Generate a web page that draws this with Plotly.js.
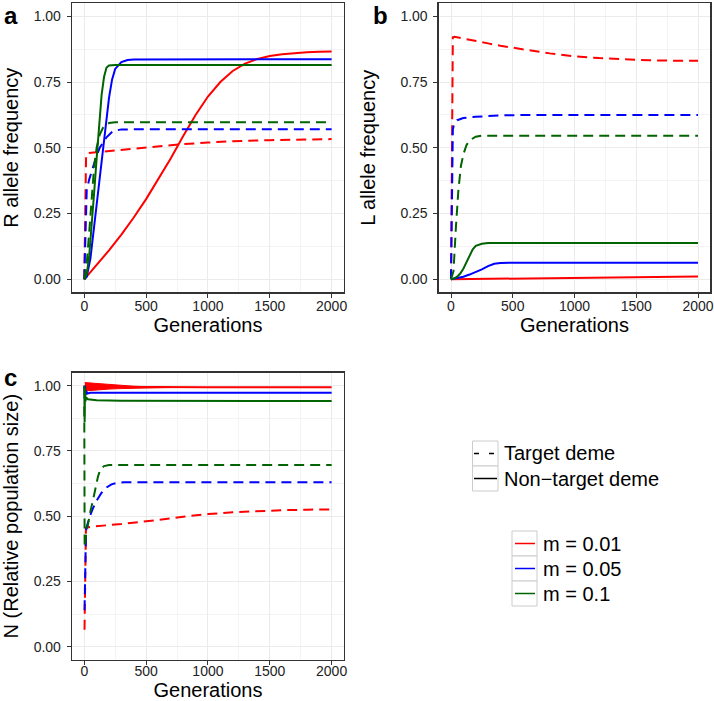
<!DOCTYPE html>
<html>
<head>
<meta charset="utf-8">
<script src="https://cdn.plot.ly/plotly-3.0.1.min.js"></script>
<style>html,body{margin:0;padding:0;background:#fff;}#chart{width:714px;height:701px;}</style>
</head>
<body>
<div id="chart"></div>
<script>
// ---------------- data ----------------
const seriesNames = ["m = 0.01", "m = 0.05", "m = 0.1"];
const demeNames = ["Target deme", "Non\u2212target deme"];
const xTicks = [0, 500, 1000, 1500, 2000];
const yTicks = [0, 0.25, 0.5, 0.75, 1];

// Panel a: R allele frequency
const aRedSolidX = [0,100,200,300,400,500,600,700,800,900,1000,1100,1200,1300,1400,1500,1600,1700,1800,1900,2000];
const aRedSolidY = [0,0.055,0.11,0.17,0.235,0.305,0.38,0.46,0.545,0.625,0.695,0.75,0.792,0.82,0.838,0.849,0.856,0.86,0.863,0.865,0.866];
const aRedDashX = [0,8,15,30,100,200,300,400,500,600,800,1000,1200,1500,2000];
const aRedDashY = [0,0.3,0.475,0.48,0.483,0.488,0.493,0.498,0.503,0.507,0.514,0.52,0.525,0.529,0.533];
const aBlueSolidX = [0,20,50,75,100,125,150,175,200,225,250,300,350,400,2000];
const aBlueSolidY = [0,0.01,0.08,0.18,0.29,0.40,0.50,0.60,0.69,0.76,0.80,0.826,0.834,0.836,0.837];
const aBlueDashX = [0,5,10,20,40,70,100,125,150,180,230,300,2000];
const aBlueDashY = [0,0.1,0.25,0.34,0.38,0.43,0.47,0.50,0.52,0.54,0.563,0.57,0.571];
const aGreenSolidX = [0,20,40,60,80,100,120,140,160,180,200,250,2000];
const aGreenSolidY = [0,0.02,0.09,0.20,0.33,0.46,0.59,0.70,0.77,0.805,0.813,0.815,0.815];
const aGreenDashX = [0,20,40,60,80,100,125,150,175,200,250,2000];
const aGreenDashY = [0,0.06,0.18,0.32,0.43,0.50,0.55,0.575,0.588,0.594,0.597,0.597];

// Panel b: L allele frequency
const bRedSolidX = [0,500,1000,1500,2000];
const bRedSolidY = [0,0.003,0.006,0.009,0.011];
const bRedDashX = [0,8,15,30,100,200,300,400,500,600,700,800,900,1000,1200,1400,1600,1800,2000];
const bRedDashY = [0,0.6,0.92,0.922,0.915,0.906,0.897,0.888,0.88,0.873,0.866,0.859,0.853,0.848,0.841,0.836,0.833,0.831,0.831];
const bBlueSolidX = [0,50,100,150,200,250,300,350,400,500,2000];
const bBlueSolidY = [0,0.004,0.01,0.018,0.027,0.038,0.05,0.059,0.062,0.063,0.063];
const bBlueDashX = [0,8,15,25,50,100,200,400,600,2000];
const bBlueDashY = [0,0.4,0.57,0.59,0.605,0.613,0.618,0.623,0.625,0.625];
const bGreenSolidX = [0,25,50,75,100,125,150,175,200,250,300,2000];
const bGreenSolidY = [0,0.003,0.01,0.022,0.04,0.065,0.09,0.113,0.127,0.135,0.138,0.138];
const bGreenDashX = [0,20,40,60,80,100,125,150,200,250,2000];
const bGreenDashY = [0,0.03,0.2,0.34,0.43,0.475,0.51,0.528,0.542,0.546,0.546];

// Panel c: N (relative population size)
const cRedBandX = [5,100,200,300,400,500,600,700];
const cRedBandUpper = [1.012,1.008,1.004,1.0,0.998,0.996,0.995,0.994];
const cRedBandLower = [0.980,0.984,0.987,0.989,0.990,0.991,0.992,0.993];
const cRedSolidX = [0,5,100,300,600,1000,2000];
const cRedSolidY = [1.0,0.997,0.996,0.995,0.994,0.994,0.994];
const cRedDashX = [2,8,14,30,100,200,300,400,500,600,800,1000,1200,1400,1600,1800,2000];
const cRedDashY = [0.065,0.35,0.455,0.458,0.462,0.466,0.47,0.475,0.48,0.486,0.498,0.508,0.515,0.52,0.523,0.525,0.526];
const cBlueSolidX = [0,3,6,10,15,25,50,2000];
const cBlueSolidY = [1.0,0.95,1.0,0.965,0.98,0.97,0.973,0.973];
const cBlueDashX = [2,8,14,20,30,45,70,100,140,180,220,260,320,2000];
const cBlueDashY = [0.14,0.38,0.44,0.46,0.48,0.50,0.53,0.56,0.59,0.61,0.622,0.627,0.63,0.63];
const cGreenSolidX = [0,3,6,10,15,30,100,300,2000];
const cGreenSolidY = [1.0,0.86,0.99,0.94,0.955,0.948,0.944,0.942,0.941];
const cGreenDashX = [0,3,8,15,30,50,70,90,110,130,160,200,2000];
const cGreenDashY = [0.92,0.38,0.40,0.43,0.47,0.52,0.56,0.61,0.65,0.68,0.692,0.696,0.696];

// ---------------- styling ----------------
const colors = ["#ff0000", "#0000ff", "#006400"];
const FONT = "Liberation Sans, Arial, Helvetica, sans-serif";
const W = 714, H = 701;
const px = v => v / W;
const py = v => 1 - v / H;
const LW = 2;
const DASH = "10px,6px";

function tr(x, y, color, dashed, ax) {
  return {
    type: "scatter", mode: "lines", x: x, y: y,
    xaxis: "x" + ax, yaxis: "y" + ax, showlegend: false, hoverinfo: "skip",
    line: {color: color, width: LW, dash: dashed ? DASH : "solid"}
  };
}
const traces = [
  // panel a
  tr(aRedDashX, aRedDashY, colors[0], true, ""),
  tr(aRedSolidX, aRedSolidY, colors[0], false, ""),
  tr(aBlueDashX, aBlueDashY, colors[1], true, ""),
  tr(aBlueSolidX, aBlueSolidY, colors[1], false, ""),
  tr(aGreenDashX, aGreenDashY, colors[2], true, ""),
  tr(aGreenSolidX, aGreenSolidY, colors[2], false, ""),
  // panel b
  tr(bRedDashX, bRedDashY, colors[0], true, "2"),
  tr(bRedSolidX, bRedSolidY, colors[0], false, "2"),
  tr(bBlueDashX, bBlueDashY, colors[1], true, "2"),
  tr(bBlueSolidX, bBlueSolidY, colors[1], false, "2"),
  tr(bGreenDashX, bGreenDashY, colors[2], true, "2"),
  tr(bGreenSolidX, bGreenSolidY, colors[2], false, "2"),
  // panel c
  tr(cRedDashX, cRedDashY, colors[0], true, "3"),
  {type: "scatter", mode: "lines", x: cRedBandX, y: cRedBandLower, xaxis: "x3", yaxis: "y3",
   showlegend: false, hoverinfo: "skip", line: {color: colors[0], width: 1}},
  {type: "scatter", mode: "lines", x: cRedBandX, y: cRedBandUpper, xaxis: "x3", yaxis: "y3",
   showlegend: false, hoverinfo: "skip", fill: "tonexty", fillcolor: colors[0], line: {color: colors[0], width: 1}},
  tr(cRedSolidX, cRedSolidY, colors[0], false, "3"),
  tr(cBlueDashX, cBlueDashY, colors[1], true, "3"),
  tr(cBlueSolidX, cBlueSolidY, colors[1], false, "3"),
  tr(cGreenDashX, cGreenDashY, colors[2], true, "3"),
  tr(cGreenSolidX, cGreenSolidY, colors[2], false, "3"),
];

function xax(domain, anchor, title, labelOff) {
  return {
    domain: domain, anchor: anchor, range: [-100, 2100], tickmode: "array", tickvals: xTicks,
    ticks: "outside", ticklen: 4, tickwidth: 1, tickcolor: "#333",
    showline: true, mirror: true, linecolor: "#333", linewidth: 1.2,
    showgrid: true, gridcolor: "#ebebeb", gridwidth: 1, zeroline: false,
    minor: {dtick: 250, tick0: 0, showgrid: true, gridcolor: "#f4f4f4", gridwidth: 1, ticks: ""},
    tickfont: {family: FONT, size: 14, color: "#222"},
    ticklabelstandoff: labelOff,
    automargin: false,
    title: {text: title, font: {family: FONT, size: 20, color: "#000"}, standoff: 1}
  };
}
function yax(domain, anchor, title) {
  return {
    domain: domain, anchor: anchor, range: [-0.05, 1.05], tickmode: "array", tickvals: yTicks,
    tickformat: ".2f",
    ticks: "outside", ticklen: 4, tickwidth: 1, tickcolor: "#333",
    showline: true, mirror: true, linecolor: "#333", linewidth: 1.2,
    showgrid: true, gridcolor: "#ebebeb", gridwidth: 1, zeroline: false,
    minor: {dtick: 0.125, tick0: 0, showgrid: true, gridcolor: "#f4f4f4", gridwidth: 1, ticks: ""},
    tickfont: {family: FONT, size: 14, color: "#222"},
    ticklabelstandoff: 3,
    automargin: false,
    title: {text: title, font: {family: FONT, size: 20, color: "#000"}, standoff: 19}
  };
}

const dxA = [px(71.9), px(344)];
const dxB = [px(438.65), px(710.35)];
const dyAB = [py(292.45), py(3.15)];
const dyC = [py(659.75), py(372.65)];

const shapes = [];
const annotations = [];
function keyBox(x0, y0, x1, y1) {
  shapes.push({type: "rect", xref: "paper", yref: "paper", x0: px(x0), x1: px(x1), y0: py(y1), y1: py(y0),
    line: {color: "#cccccc", width: 1}, fillcolor: "#ffffff", layer: "above"});
}
function keyLine(x0, x1, y, color, dash) {
  shapes.push({type: "line", xref: "paper", yref: "paper", x0: px(x0), x1: px(x1), y0: py(y), y1: py(y),
    line: {color: color, width: 1.5, dash: dash}, layer: "above"});
}
function label(text, x, y, size, bold, yanchor) {
  annotations.push({xref: "paper", yref: "paper", x: px(x), y: py(y), xanchor: "left", yanchor: yanchor || "middle",
    showarrow: false, text: bold ? "<b>" + text + "</b>" : text,
    font: {family: FONT, size: size, color: "#000"}});
}
// linetype legend
keyBox(472.5, 441, 498, 466);
keyBox(472.5, 466, 498, 491);
keyLine(474, 495, 453.5, "#000", "5px,10px");
keyLine(474, 497, 478.5, "#000", "solid");
label(demeNames[0], 502, 453.5, 20, false);
label(demeNames[1], 502, 478.5, 20, false);
// colour legend
for (let i = 0; i < 3; i++) {
  const top = 531 + 25 * i;
  keyBox(512, top, 537, top + 25);
  keyLine(515, 535, top + 12.5, colors[i], "solid");
  label(seriesNames[i], 541, top + 12.5, 20, false);
}
// panel letters
label("a", 2, 0.5, 24, true, "top");
label("b", 371, 0.5, 24, true, "top");
label("c", 2, 362, 24, true, "top");

const layout = {
  width: W, height: H, margin: {l: 0, r: 0, t: 0, b: 0},
  paper_bgcolor: "#fff", plot_bgcolor: "#fff", showlegend: false,
  font: {family: FONT},
  xaxis: xax(dxA, "y", "Generations", -3),
  yaxis: yax(dyAB, "x", "R allele frequency"),
  xaxis2: xax(dxB, "y2", "Generations", -3),
  yaxis2: yax(dyAB, "x2", "L allele frequency"),
  xaxis3: xax(dxA, "y3", "Generations", -6),
  yaxis3: yax(dyC, "x3", "N (Relative population size)"),
  shapes: shapes, annotations: annotations
};
Plotly.newPlot("chart", traces, layout, {displayModeBar: false, staticPlot: true});
</script>
</body>
</html>
